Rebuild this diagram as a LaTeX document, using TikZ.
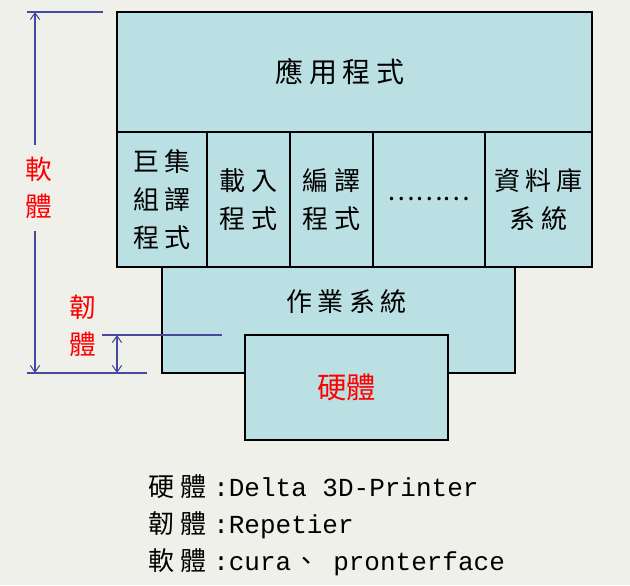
\documentclass[tikz,border=0pt]{standalone}
\usepackage{fontspec}
\setmainfont{Noto Sans CJK TC}
\setmonofont{Liberation Mono}
\newfontfamily\cjkwide[LetterSpace=20]{Noto Sans CJK TC}
\newfontfamily\cjknote[LetterSpace=25]{Noto Sans CJK TC}
\usetikzlibrary{positioning,arrows.meta}

\definecolor{boxfill}{RGB}{187,224,227}
\definecolor{paper}{RGB}{240,240,235}
\definecolor{dimline}{RGB}{72,72,160}

\begin{document}
\begin{tikzpicture}[
    % one unit is one pixel of the 630x585 sheet
    x=0.75pt, y=-0.75pt,
    % layers of the stack
    layer/.style={rectangle, draw=black, line width=0.9pt, fill=boxfill,
                  outer sep=0pt, inner sep=0pt, anchor=north west, align=center},
    app/.style={layer, minimum width=356.25pt, minimum height=90pt,
                font=\cjkwide\fontsize{21}{25}\selectfont},
    tool/.style={layer, minimum height=101.25pt,
                 font=\cjkwide\fontsize{19.5}{28.5}\selectfont},
    os/.style={layer, minimum width=264.75pt, minimum height=79.5pt},
    hw/.style={layer, minimum width=152.25pt, minimum height=78.75pt,
               text=red, font=\fontsize{22}{26}\selectfont},
    % dimension marks on the left
    dimlabel/.style={text=red, align=center, inner xsep=1pt, inner ysep=9pt,
                     font=\fontsize{20}{28}\selectfont},
    dim/.style={dimline, line width=0.8pt},
    dimarr/.style={dim, -{Straight Barb[length=5pt, width=7pt]}},
    dimboth/.style={dim, {Straight Barb[length=5pt, width=7pt]}-{Straight Barb[length=5pt, width=7pt]}},
  ]

  % sheet
  \fill[paper] (0,0) rectangle (630,585);
  \useasboundingbox (0,0) rectangle (630,585);

  % application layer
  \node (app)   [app] at (117,12)                        {應用程式\hspace{22pt}};

  % system programs, side by side under the application layer
  \node (asm)   [tool, minimum width=67.5pt] at (app.south west) {巨集\\組譯\\程式};
  \node (load)  [tool, minimum width=62.25pt, right=0pt of asm]  {載入\\程式};
  \node (comp)  [tool, minimum width=62.25pt, right=0pt of load] {編譯\\程式};
  \node (more)  [tool, minimum width=84pt,    right=0pt of comp,
                 font=\fontsize{19.5}{24}\selectfont]            {………};
  \node (db)    [tool, minimum width=80.25pt, right=0pt of more] {資料庫\\系統};

  % operating system and hardware
  \node (os)    [os] at (162,267)                        {};
  \node (ostxt) [font=\cjkwide\fontsize{19.5}{24}\selectfont]
                at ([xshift=6pt,yshift=-26pt]os.north)   {作業系統};
  \node (hw)    [hw] at (245,335)                        {\raisebox{-3pt}{硬體}};

  % software span
  \coordinate (swtop)  at (35,12);
  \coordinate (swbot)  at (35,373);
  \coordinate (swtopl) at (27,12);
  \coordinate (swtopr) at (103,12);
  \coordinate (swbotl) at (27,373);
  \coordinate (swbotr) at (147,373);
  \node (swlabel) [dimlabel] at (39,188) {軟\\體};

  \draw[dim]    (swtopl) -- (swtopr);
  \draw[dim]    (swbotl) -- (swbotr);
  \draw[dimarr] (swlabel.north -| swtop) -- (swtop);
  \draw[dimarr] (swlabel.south -| swbot) -- (swbot);

  % firmware span
  \coordinate (fwtop)  at (117,335);
  \coordinate (fwbot)  at (117,373);
  \coordinate (fwtopl) at (102,335);
  \coordinate (fwtopr) at (222,335);
  \node (fwlabel) [dimlabel] at (83,326) {韌\\體};

  \draw[dim]     (fwtopl) -- (fwtopr);
  \draw[dimboth] (fwtop) -- (fwbot);

  % legend
  \node (notes) [anchor=north west, align=left, inner sep=0pt,
                 font=\fontsize{19.5}{27.75}\selectfont] at (148,474)
    {{\cjknote 硬體}\texttt{:Delta 3D-Printer}\\
     {\cjknote 韌體}\texttt{:Repetier}\\
     {\cjknote 軟體}\texttt{:cura}\hspace{2pt}、\hspace{10pt}\texttt{pronterface}};

\end{tikzpicture}
\end{document}
